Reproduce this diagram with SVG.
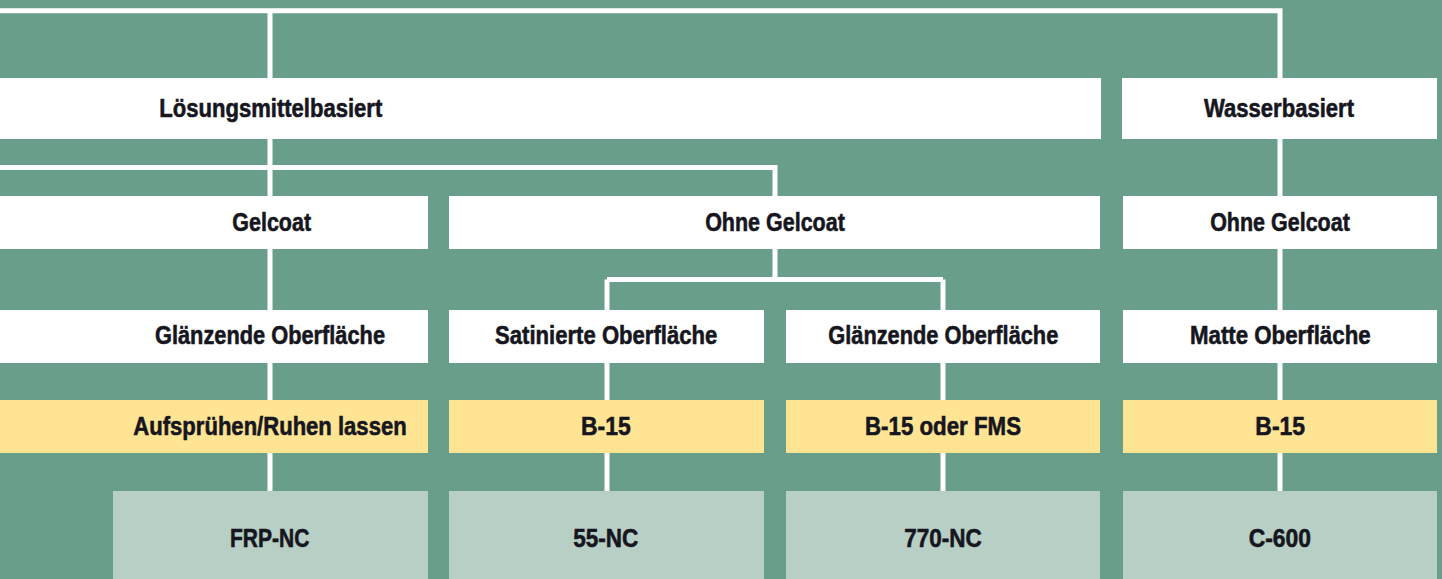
<svg xmlns="http://www.w3.org/2000/svg" width="1442" height="579" viewBox="0 0 1442 579">
<style>
.w{fill:#ffffff}
.y{fill:#ffe494}
.g{fill:#b8cfc5}
.c{fill:none;stroke:#ffffff;stroke-width:5}
text{font-family:"Liberation Sans",Arial,sans-serif;font-weight:bold;font-size:26.5px;fill:#16161e;stroke:#16161e;stroke-width:0.6;text-anchor:middle}
</style>
<rect x="0" y="0" width="1442" height="579" fill="#689e8a"/>
<g id="connectors">
<path class="c" d="M0 10.7H1280V78M270 10.7V491"/>
<path class="c" d="M1280 139V491"/>
<path class="c" d="M0 167.5H775V196"/>
<path class="c" d="M775 249V279.5M607 279.5H943M607 279.5V491M943 279.5V491"/>
</g>
<g id="n-loesungsmittel"><rect class="w" x="0" y="78" width="1101" height="61"/><text x="270.8" y="116.7" textLength="223" lengthAdjust="spacingAndGlyphs">Lösungsmittelbasiert</text></g>
<g id="n-wasser"><rect class="w" x="1122" y="78" width="315" height="61"/><text x="1279" y="116.7" textLength="150" lengthAdjust="spacingAndGlyphs">Wasserbasiert</text></g>
<g id="n-gelcoat"><rect class="w" x="0" y="196" width="428" height="53"/><text x="271.7" y="231" textLength="78.7" lengthAdjust="spacingAndGlyphs">Gelcoat</text></g>
<g id="n-ohne1"><rect class="w" x="449" y="196" width="651" height="53"/><text x="775" y="231" textLength="139.7" lengthAdjust="spacingAndGlyphs">Ohne Gelcoat</text></g>
<g id="n-ohne2"><rect class="w" x="1123" y="196" width="314" height="53"/><text x="1280" y="231" textLength="139.7" lengthAdjust="spacingAndGlyphs">Ohne Gelcoat</text></g>
<g id="n-glanz1"><rect class="w" x="0" y="310" width="428" height="53"/><text x="270" y="344" textLength="230" lengthAdjust="spacingAndGlyphs">Glänzende Oberfläche</text></g>
<g id="n-satin"><rect class="w" x="449" y="310" width="315" height="53"/><text x="606.2" y="344" textLength="222.3" lengthAdjust="spacingAndGlyphs">Satinierte Oberfläche</text></g>
<g id="n-glanz2"><rect class="w" x="786" y="310" width="314" height="53"/><text x="943.3" y="344" textLength="230" lengthAdjust="spacingAndGlyphs">Glänzende Oberfläche</text></g>
<g id="n-matt"><rect class="w" x="1123" y="310" width="314" height="53"/><text x="1280.3" y="344" textLength="180.7" lengthAdjust="spacingAndGlyphs">Matte Oberfläche</text></g>
<g id="n-auf"><rect class="y" x="0" y="400" width="428" height="53"/><text x="270" y="435" textLength="273.3" lengthAdjust="spacingAndGlyphs">Aufsprühen/Ruhen lassen</text></g>
<g id="n-b15a"><rect class="y" x="449" y="400" width="315" height="53"/><text x="605.8" y="435" textLength="49.7" lengthAdjust="spacingAndGlyphs">B-15</text></g>
<g id="n-b15fms"><rect class="y" x="786" y="400" width="314" height="53"/><text x="943" y="435" textLength="156" lengthAdjust="spacingAndGlyphs">B-15 oder FMS</text></g>
<g id="n-b15b"><rect class="y" x="1123" y="400" width="314" height="53"/><text x="1280.2" y="435" textLength="49.7" lengthAdjust="spacingAndGlyphs">B-15</text></g>
<g id="n-frp"><rect class="g" x="113" y="491" width="315" height="88"/><text x="269.7" y="546.5" textLength="79.3" lengthAdjust="spacingAndGlyphs">FRP-NC</text></g>
<g id="n-55"><rect class="g" x="449" y="491" width="315" height="88"/><text x="605.8" y="546.5" textLength="65" lengthAdjust="spacingAndGlyphs">55-NC</text></g>
<g id="n-770"><rect class="g" x="786" y="491" width="314" height="88"/><text x="943" y="546.5" textLength="77.5" lengthAdjust="spacingAndGlyphs">770-NC</text></g>
<g id="n-c600"><rect class="g" x="1123" y="491" width="314" height="88"/><text x="1279.8" y="546.5" textLength="62.3" lengthAdjust="spacingAndGlyphs">C-600</text></g>
</svg>
